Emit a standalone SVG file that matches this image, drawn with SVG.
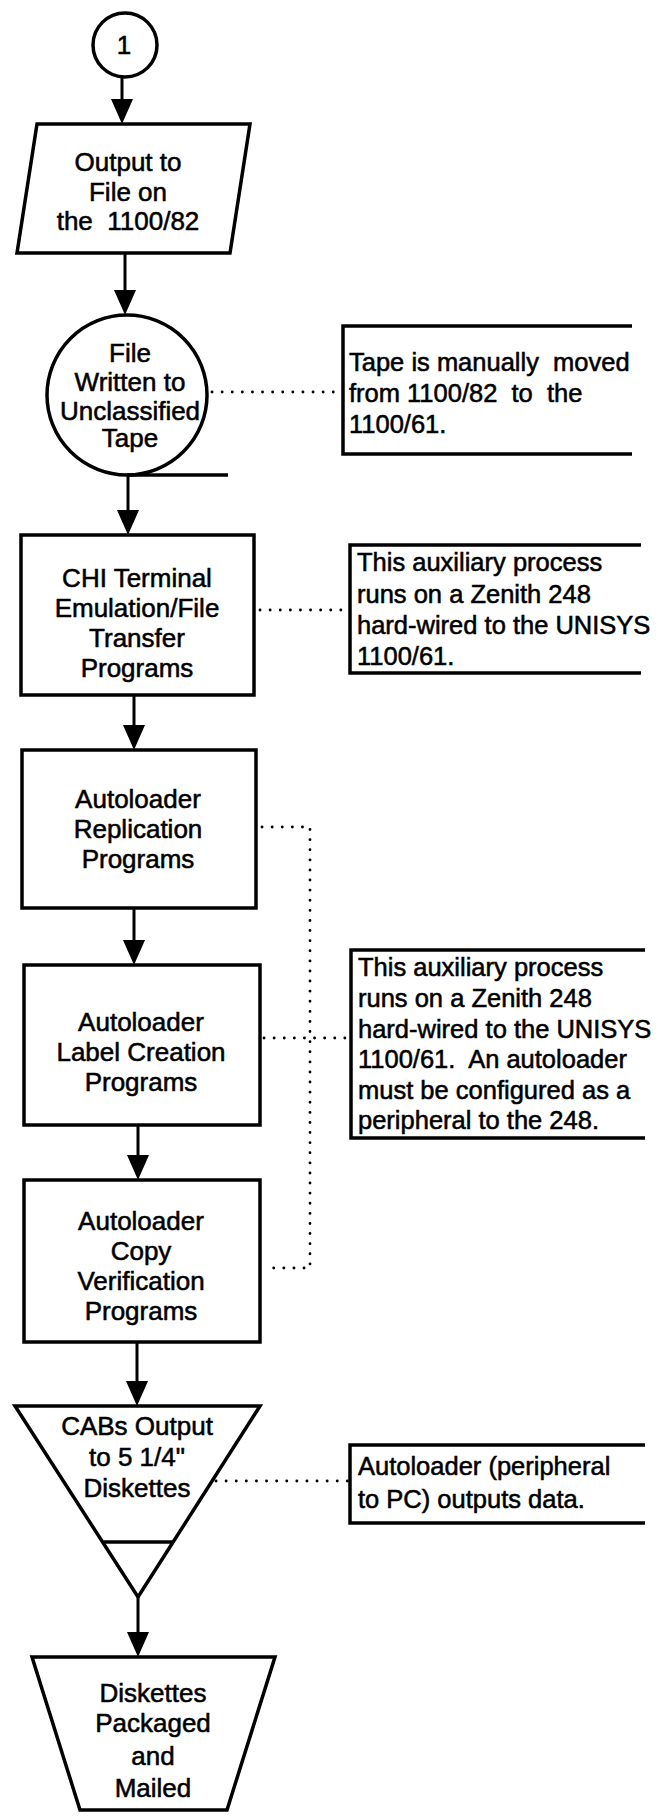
<svg xmlns="http://www.w3.org/2000/svg" width="671" height="1817" viewBox="0 0 671 1817">
  <defs>
    <style>
      .shape { fill: #fff; stroke: #000; stroke-width: 3.5; stroke-linejoin: miter; }
      .edge { fill: none; stroke: #000; stroke-width: 3.5; }
      .flow { stroke: #000; stroke-width: 3; fill: none; }
      .dots { stroke: #000; stroke-width: 2.8; fill: none; stroke-linecap: round; stroke-dasharray: 0.1 10; }
      .label { font-family: "Liberation Sans", Arial, Helvetica, sans-serif; font-size: 26px; fill: #000; stroke: #000; stroke-width: 0.55; text-anchor: middle; white-space: pre; }
      .note { font-family: "Liberation Sans", Arial, Helvetica, sans-serif; font-size: 25.5px; fill: #000; stroke: #000; stroke-width: 0.55; white-space: pre; }
    </style>
    <marker id="arrow" markerUnits="userSpaceOnUse" markerWidth="26" markerHeight="24" refX="19" refY="11" orient="auto">
      <path d="M0,0 L25,11 L0,22 Z" fill="#000"/>
    </marker>
  </defs>

  <rect width="671" height="1817" fill="#fff"/>

  <!-- connectors -->
  <g id="connectors">
    <line class="flow" x1="122" y1="77" x2="122" y2="118" marker-end="url(#arrow)"/>
    <line class="flow" x1="125" y1="253" x2="125" y2="309" marker-end="url(#arrow)"/>
    <line class="flow" x1="128" y1="475" x2="128" y2="529" marker-end="url(#arrow)"/>
    <line class="flow" x1="134" y1="695" x2="134" y2="744" marker-end="url(#arrow)"/>
    <line class="flow" x1="134" y1="908" x2="134" y2="959" marker-end="url(#arrow)"/>
    <line class="flow" x1="138" y1="1125" x2="138" y2="1174" marker-end="url(#arrow)"/>
    <line class="flow" x1="137" y1="1342" x2="137" y2="1400" marker-end="url(#arrow)"/>
    <line class="flow" x1="138" y1="1595" x2="138" y2="1651" marker-end="url(#arrow)"/>

    <!-- dotted annotation links -->
    <line class="dots" x1="212" y1="392" x2="341" y2="392"/>
    <line class="dots" x1="260" y1="610" x2="348" y2="610"/>
    <polyline class="dots" points="262,827 310,827 310,1268 264,1268"/>
    <line class="dots" x1="264" y1="1038" x2="349" y2="1038"/>
    <line class="dots" x1="216" y1="1481" x2="348" y2="1481"/>
  </g>

  <!-- off-page connector -->
  <g id="n-start">
    <circle class="shape" cx="125" cy="45" r="32"/>
    <text class="label" x="124" y="54">1</text>
  </g>

  <!-- input/output -->
  <g id="n-output-file">
    <polygon class="shape" points="37,124 250,124 230,253 17,253"/>
    <text class="label" x="128" y="171">Output to</text>
    <text class="label" x="128" y="201">File on</text>
    <text class="label" x="128" y="230">the  1100/82</text>
  </g>

  <!-- magnetic tape -->
  <g id="n-tape">
    <circle class="shape" cx="127" cy="395" r="80"/>
    <line class="edge" x1="127" y1="475" x2="228" y2="475"/>
    <text class="label" x="130" y="362">File</text>
    <text class="label" x="130" y="391">Written to</text>
    <text class="label" x="130" y="420">Unclassified</text>
    <text class="label" x="130" y="447">Tape</text>
  </g>

  <g id="note-tape">
    <polyline class="edge" points="632,326 343,326 343,454 632,454"/>
    <text class="note" x="349" y="371">Tape is manually  moved</text>
    <text class="note" x="349" y="402">from 1100/82  to  the</text>
    <text class="note" x="349" y="433">1100/61.</text>
  </g>

  <g id="n-chi">
    <rect class="shape" x="21" y="535" width="233" height="160"/>
    <text class="label" x="137" y="587">CHI Terminal</text>
    <text class="label" x="137" y="617">Emulation/File</text>
    <text class="label" x="137" y="647">Transfer</text>
    <text class="label" x="137" y="677">Programs</text>
  </g>

  <g id="note-chi">
    <polyline class="edge" points="641,545 350,545 350,673 641,673"/>
    <text class="note" x="357" y="571">This auxiliary process</text>
    <text class="note" x="357" y="603">runs on a Zenith 248</text>
    <text class="note" x="357" y="634">hard-wired to the UNISYS</text>
    <text class="note" x="357" y="665">1100/61.</text>
  </g>

  <g id="n-replication">
    <rect class="shape" x="22" y="750" width="234" height="158"/>
    <text class="label" x="138" y="808">Autoloader</text>
    <text class="label" x="138" y="838">Replication</text>
    <text class="label" x="138" y="868">Programs</text>
  </g>

  <g id="n-label">
    <rect class="shape" x="24" y="965" width="236" height="160"/>
    <text class="label" x="141" y="1031">Autoloader</text>
    <text class="label" x="141" y="1061">Label Creation</text>
    <text class="label" x="141" y="1091">Programs</text>
  </g>

  <g id="note-autoloader">
    <polyline class="edge" points="645,950 351,950 351,1138 645,1138"/>
    <text class="note" x="358" y="976">This auxiliary process</text>
    <text class="note" x="358" y="1007">runs on a Zenith 248</text>
    <text class="note" x="358" y="1038">hard-wired to the UNISYS</text>
    <text class="note" x="358" y="1068">1100/61.  An autoloader</text>
    <text class="note" x="358" y="1099">must be configured as a</text>
    <text class="note" x="358" y="1129">peripheral to the 248.</text>
  </g>

  <g id="n-copy">
    <rect class="shape" x="24" y="1180" width="236" height="162"/>
    <text class="label" x="141" y="1230">Autoloader</text>
    <text class="label" x="141" y="1260">Copy</text>
    <text class="label" x="141" y="1290">Verification</text>
    <text class="label" x="141" y="1320">Programs</text>
  </g>

  <!-- offline storage -->
  <g id="n-diskettes-out">
    <polygon class="shape" points="15,1406 260,1406 138,1597"/>
    <line class="edge" x1="104" y1="1542" x2="173" y2="1542"/>
    <text class="label" x="137" y="1435">CABs Output</text>
    <text class="label" x="137" y="1466">to 5 1/4"</text>
    <text class="label" x="137" y="1497">Diskettes</text>
  </g>

  <g id="note-output">
    <polyline class="edge" points="645,1445 350,1445 350,1523 645,1523"/>
    <text class="note" x="358" y="1475">Autoloader (peripheral</text>
    <text class="note" x="358" y="1508">to PC) outputs data.</text>
  </g>

  <!-- manual operation -->
  <g id="n-mailed">
    <polygon class="shape" points="32,1657 275,1657 227,1810 80,1810"/>
    <text class="label" x="153" y="1702">Diskettes</text>
    <text class="label" x="153" y="1732">Packaged</text>
    <text class="label" x="153" y="1765">and</text>
    <text class="label" x="153" y="1797">Mailed</text>
  </g>
</svg>
